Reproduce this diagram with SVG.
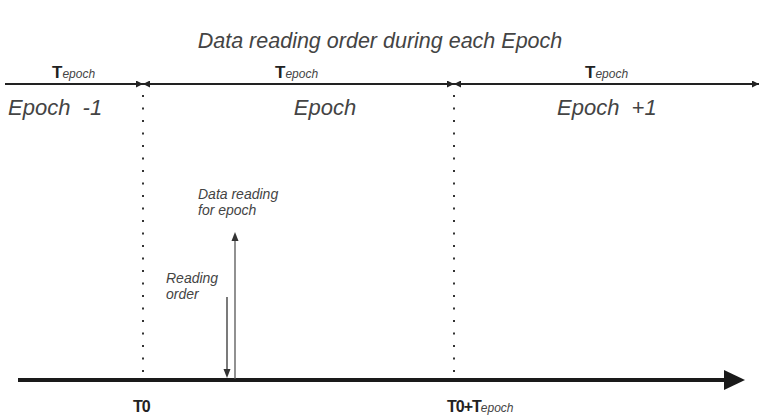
<svg xmlns="http://www.w3.org/2000/svg" width="759" height="418" viewBox="0 0 759 418">
<defs>
<marker id="ah" viewBox="0 0 10 10" refX="10" refY="5" markerWidth="7" markerHeight="7" markerUnits="userSpaceOnUse" orient="auto"><path d="M0,0 L10,5 L0,10 z" fill="#222"/></marker>
</defs>
<style>
.t{font-family:"Liberation Sans",Arial,sans-serif;fill:#444;font-style:italic}
.b{font-family:"Liberation Sans",Arial,sans-serif;fill:#222;font-weight:bold}
.e{font-family:"Liberation Sans",Arial,sans-serif;fill:#444;font-style:italic;font-weight:normal;font-size:12px}
.dot{stroke:#333;stroke-width:2;stroke-dasharray:2 10.5;fill:none}
.ln{stroke:#222;stroke-width:2;fill:none}
</style>
<rect width="759" height="418" fill="#fff"/>
<text class="t" x="380" y="48" font-size="21.5" text-anchor="middle">Data reading order during each Epoch</text>
<g id="connectors">
<line class="ln" x1="5" y1="84" x2="143" y2="84" marker-end="url(#ah)"/>
<line class="ln" x1="454" y1="84" x2="143" y2="84" marker-end="url(#ah)"/>
<line class="ln" x1="143" y1="84" x2="454" y2="84" marker-end="url(#ah)"/>
<line class="ln" x1="759" y1="84" x2="454" y2="84" marker-end="url(#ah)"/>
<line class="ln" x1="454" y1="84" x2="759" y2="84" marker-end="url(#ah)"/>
<line class="dot" x1="143" y1="95" x2="143" y2="382"/>
<line class="dot" x1="454" y1="95" x2="454" y2="382"/>
<line x1="18" y1="380" x2="726" y2="380" stroke="#1a1a1a" stroke-width="4"/>
<path d="M724,370 L745,380 L724,390 z" fill="#1a1a1a"/>
<line x1="235" y1="379" x2="235" y2="240" stroke="#555" stroke-width="1.3"/>
<path d="M231.5,241 L235,232 L238.5,241 z" fill="#333"/>
<line x1="227" y1="297" x2="227" y2="370" stroke="#333" stroke-width="1.3"/>
<path d="M223.5,369 L227,378 L230.5,369 z" fill="#333"/>
</g>
<g id="tepoch-labels">
<text class="b" x="52" y="78" font-size="17">T<tspan class="e">epoch</tspan></text>
<text class="b" x="275" y="78" font-size="17">T<tspan class="e">epoch</tspan></text>
<text class="b" x="585" y="78" font-size="17">T<tspan class="e">epoch</tspan></text>
</g>
<g id="epoch-minus-1"><text class="t" x="8" y="115" font-size="22" xml:space="preserve">Epoch  -1</text></g>
<g id="epoch"><text class="t" x="325" y="115" font-size="22" text-anchor="middle">Epoch</text></g>
<g id="epoch-plus-1"><text class="t" x="557" y="115" font-size="22" xml:space="preserve">Epoch  +1</text></g>
<g id="data-reading">
<text class="t" x="198" y="199" font-size="14">Data reading</text>
<text class="t" x="198" y="215" font-size="14">for epoch</text>
</g>
<g id="reading-order">
<text class="t" x="166" y="283" font-size="14">Reading</text>
<text class="t" x="166" y="299" font-size="14">order</text>
</g>
<g id="t0"><text class="b" x="133" y="412" font-size="16" letter-spacing="-1">T0</text></g>
<g id="t0-tepoch"><text class="b" x="447" y="412" font-size="16" letter-spacing="-1">T0+T<tspan class="e" letter-spacing="0">epoch</tspan></text></g>
</svg>
